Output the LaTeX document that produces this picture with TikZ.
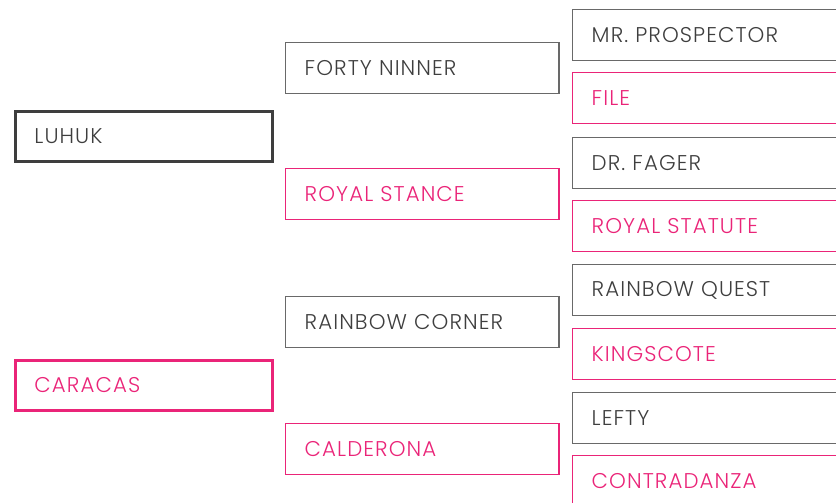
\documentclass[tikz,border=0pt]{standalone}
\usepackage{fontspec}
\setmainfont{Poppins}[UprightFont=* Light, LetterSpace=5]
\usepackage{xcolor}
\usetikzlibrary{positioning}
\definecolor{pedpink}{RGB}{234,36,120}
\definecolor{pedtext}{RGB}{62,62,62}
\definecolor{pedline}{RGB}{105,105,105}

\begin{document}
\begin{tikzpicture}[x=0.75pt, y=-0.75pt, font=\fontsize{16}{18}\selectfont]
    % Define styles
    \tikzstyle{rec_gen1} = [draw, rectangle, anchor=north west, line width=2.2pt, minimum width=192.8pt, minimum height=37.5pt, text width=164.3pt, inner xsep=14.25pt, align=left]
    \tikzstyle{rec_gen2} = [draw, rectangle, anchor=north west, line width=1.1pt, minimum width=205pt, minimum height=38pt, text width=176.5pt, inner xsep=14.25pt, align=left]
    \tikzstyle{rec_gen3} = [draw, rectangle, anchor=north west, line width=1.1pt, minimum width=215pt, minimum height=38pt, text width=186.5pt, inner xsep=14.25pt, align=left]
    \tikzstyle{sire} = [draw=pedline, text=pedtext]
    \tikzstyle{dam} = [draw=pedpink, text=pedpink]

    \useasboundingbox (0,0) rectangle (836,503);
    \clip (0,0) rectangle (836,503);

    % FIRST GENERATION
    \node (luhuk) [rec_gen1, sire, draw=pedtext] at (14,110) {LUHUK};
    \node (caracas) [rec_gen1, dam] at (14,359) {CARACAS};

    % SECOND GENERATION
    \node (forty_ninner) [rec_gen2, sire] at (285,42) {FORTY NINNER};
    \node (royal_stance) [rec_gen2, dam] at (285,168) {ROYAL STANCE};
    \node (rainbow_corner) [rec_gen2, sire] at (285,296) {RAINBOW CORNER};
    \node (calderona) [rec_gen2, dam] at (285,423) {CALDERONA};

    % THIRD GENERATION
    \node (mr_prospector) [rec_gen3, sire] at (572,9) {MR. PROSPECTOR};
    \node (file) [rec_gen3, dam] at (572,72) {FILE};
    \node (dr_fager) [rec_gen3, sire] at (572,137) {DR. FAGER};
    \node (royal_statute) [rec_gen3, dam] at (572,200) {ROYAL STATUTE};
    \node (rainbow_quest) [rec_gen3, sire] at (572,264) {RAINBOW QUEST};
    \node (kingscote) [rec_gen3, dam] at (572,328) {KINGSCOTE};
    \node (lefty) [rec_gen3, sire] at (572,392) {LEFTY};
    \node (contradanza) [rec_gen3, dam] at (572,455) {CONTRADANZA};

\end{tikzpicture}
\end{document}
